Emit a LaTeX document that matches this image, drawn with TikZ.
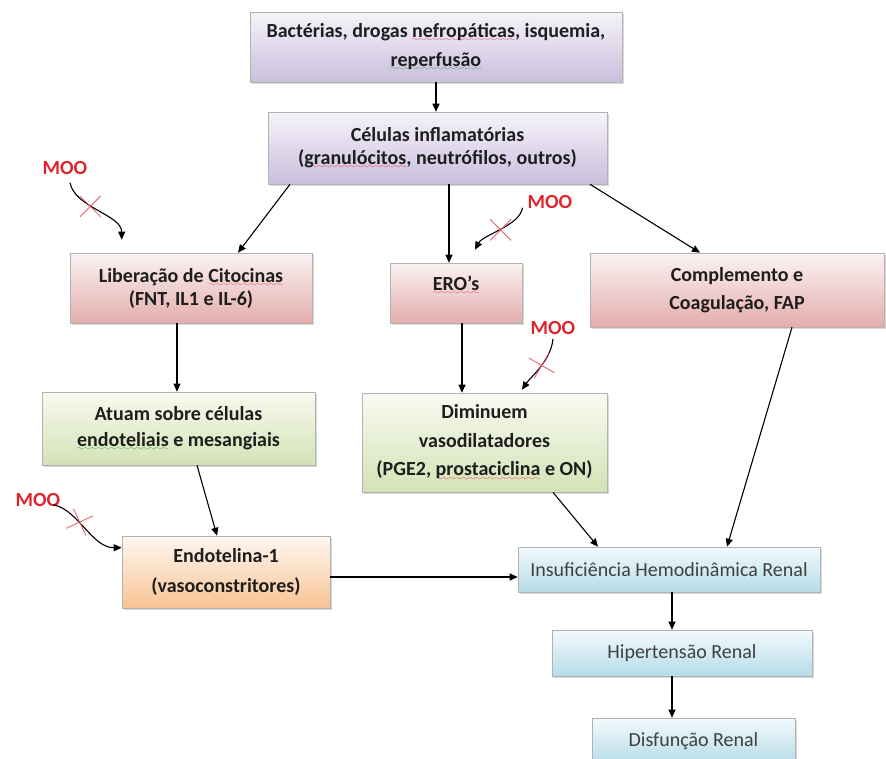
\documentclass[tikz,border=0pt]{standalone}
\usepackage{fontspec}
\setmainfont{Carlito}
\usetikzlibrary{arrows.meta,shadows,shapes.misc}

\definecolor{txt}{HTML}{1E1E1E}
\definecolor{purpleA}{HTML}{F6F3FA}
\definecolor{purpleB}{HTML}{C9BFDC}
\definecolor{pinkA}{HTML}{FCF3F3}
\definecolor{pinkB}{HTML}{E4ADAD}
\definecolor{greenA}{HTML}{F8FAF0}
\definecolor{greenB}{HTML}{D4E2B6}
\definecolor{orangeA}{HTML}{FEF7F0}
\definecolor{orangeB}{HTML}{F9C495}
\definecolor{blueA}{HTML}{F3FAFD}
\definecolor{blueB}{HTML}{B5DCE8}
\definecolor{mooRed}{HTML}{E0242C}
\definecolor{xRed}{HTML}{E85A64}
\definecolor{spellred}{HTML}{E8333A}
\definecolor{spellgreen}{HTML}{3E9B3E}

% wavy spell-check marks
\font\wavefont=lasy6 at 7.5pt
\newcommand\wavy[2]{\leavevmode\setbox0\hbox{#2}%
  \rlap{\raisebox{-4.5pt}{\textcolor{#1}{\hbox to \wd0{\xleaders\hbox{\wavefont\char58}\hfill}}}}\box0\relax}
\newcommand\errsp[1]{\wavy{spellred}{#1}}
\newcommand\grsp[1]{\wavy{spellgreen}{#1}}

\begin{document}
\begin{tikzpicture}[x=1pt,y=-1pt,
    box/.style={draw=gray!60, line width=.6pt, align=center, inner sep=0pt, text=txt,
      font=\bfseries\fontsize{20}{26}\selectfont,
      drop shadow={shadow xshift=2pt,shadow yshift=-2pt,opacity=.3}},
    purplebox/.style={box, top color=purpleA, bottom color=purpleB},
    pinkbox/.style={box, top color=pinkA, bottom color=pinkB},
    greenbox/.style={box, top color=greenA, bottom color=greenB},
    orangebox/.style={box, top color=orangeA, bottom color=orangeB},
    bluebox/.style={box, top color=blueA, bottom color=blueB, text=txt!85,
      font=\fontsize{20}{24}\selectfont},
    arr/.style={-{Triangle[length=8pt,width=7pt]}, line width=1.1pt},
    moo/.style={text=mooRed, font=\bfseries\fontsize{20}{20}\selectfont, inner sep=1pt},
    xmark/.style={cross out, draw=xRed, line width=.8pt, minimum size=20pt, inner sep=0pt}]

  \path[use as bounding box] (0,0) rectangle (886,758);

  \node[purplebox, minimum width=372pt, minimum height=70pt,
    font=\bfseries\fontsize{20}{29}\selectfont] (bact) at (436,47)
    {Bactérias, drogas \errsp{nefropáticas}, isquemia,\\\grsp{reperfusão}};
  \node[purplebox, minimum width=339pt, minimum height=72pt,
    font=\bfseries\fontsize{20}{23}\selectfont] (cel) at (437.5,148)
    {Células inflamatórias\\(\errsp{granulócitos}, neutrófilos, outros)};

  \node[pinkbox, minimum width=242pt, minimum height=70pt,
    font=\bfseries\fontsize{20}{23}\selectfont] (lib) at (191,288)
    {Liberação de \errsp{Citocinas}\\(FNT, IL1 e IL-6)};
  \node[pinkbox, minimum width=132pt, minimum height=60pt, text depth=20pt] (ero) at (456,293)
    {\errsp{ERO’s}};
  \node[pinkbox, minimum width=294pt, minimum height=74pt,
    font=\bfseries\fontsize{20}{28}\selectfont] (comp) at (737,290)
    {Complemento e\\Coagulação, FAP};

  \node[greenbox, minimum width=273pt, minimum height=73pt] (atuam) at (178.5,428.5)
    {Atuam sobre células\\\grsp{endoteliais} e mesangiais};
  \node[greenbox, minimum width=245pt, minimum height=99pt,
    font=\bfseries\fontsize{20}{28.5}\selectfont] (dimin) at (484.5,442.5)
    {Diminuem\\vasodilatadores\\(PGE2, \errsp{prostaciclina} e ON)};

  \node[orangebox, minimum width=208pt, minimum height=72pt,
    font=\bfseries\fontsize{20}{30}\selectfont] (endo) at (226,572)
    {Endotelina-1\\(vasoconstritores)};

  \node[bluebox, minimum width=302pt, minimum height=45pt] (insuf) at (669,569.5)
    {Insuficiência Hemodinâmica Renal};
  \node[bluebox, minimum width=260pt, minimum height=46pt] (hiper) at (682,653)
    {Hipertensão Renal};
  \node[bluebox, minimum width=203pt, minimum height=46pt] (disf) at (693.5,741)
    {Disfunção Renal};

  \draw[arr] (bact.south) -- (bact.south |- cel.north);
  \draw[arr] ([xshift=-147.5pt]cel.south) -- ([xshift=47pt]lib.north);
  \draw[arr] ([xshift=11.5pt]cel.south) -- ([xshift=-7pt]ero.north);
  \draw[arr] ([xshift=152.5pt]cel.south) -- ([xshift=-37pt]comp.north);
  \draw[arr] ([xshift=-14pt]lib.south) -- ([xshift=-1.5pt]atuam.north);
  \draw[arr] ([xshift=6pt]ero.south) -- ([xshift=-22.5pt]dimin.north);
  \draw[arr] ([xshift=55pt]comp.south) -- ([xshift=58pt]insuf.north);
  \draw[arr] ([xshift=18.5pt]atuam.south) -- ([xshift=-9pt]endo.north);
  \draw[arr] ([xshift=68.5pt]dimin.south) -- ([xshift=-71pt]insuf.north);
  \draw[arr] ([yshift=-5pt]endo.east) -- ([yshift=-7.5pt]insuf.west);
  \draw[arr] ([xshift=3pt]insuf.south) -- ([xshift=-10pt]hiper.north);
  \draw[arr] ([xshift=-10pt]hiper.south) -- ([xshift=-21.5pt]disf.north);

  % MOO
  \node[moo] (moo1) at (65,168) {MOO};
  \node[moo] (moo2) at (550,202) {MOO};
  \node[moo] (moo3) at (553,328) {MOO};
  \node[moo] (moo4) at (38,500) {MOO};

  \draw[arr] ([xshift=5pt,yshift=-7pt]moo1.south) .. controls +(5,25) and +(0,-25) ..
    ([xshift=52pt,yshift=13pt]lib.north west) coordinate[pos=.4] (x1);
  \draw[arr] ([xshift=-4pt,yshift=2pt]moo2.south west) .. controls +(-3,18) and +(8,-15) ..
    ([xshift=19pt,yshift=13pt]ero.north) coordinate[pos=.5] (x2);
  \draw[arr] ([yshift=-3pt]moo3.south) .. controls +(-2,22) and +(8,-12) ..
    ([xshift=37.5pt,yshift=3pt]dimin.north) coordinate[pos=.45] (x3);
  \draw[arr] ([xshift=-8pt,yshift=3pt]moo4.south east) .. controls +(25,5) and +(-30,0) ..
    ([yshift=-12pt]endo.north west) coordinate[pos=.4] (x4);

  \node[xmark] (cross1) at (x1) {};
  \node[xmark] (cross2) at (x2) {};
  \node[xmark, rotate=15] (cross3) at (x3) {};
  \node[xmark, rotate=-20] (cross4) at (x4) {};
\end{tikzpicture}
\end{document}
